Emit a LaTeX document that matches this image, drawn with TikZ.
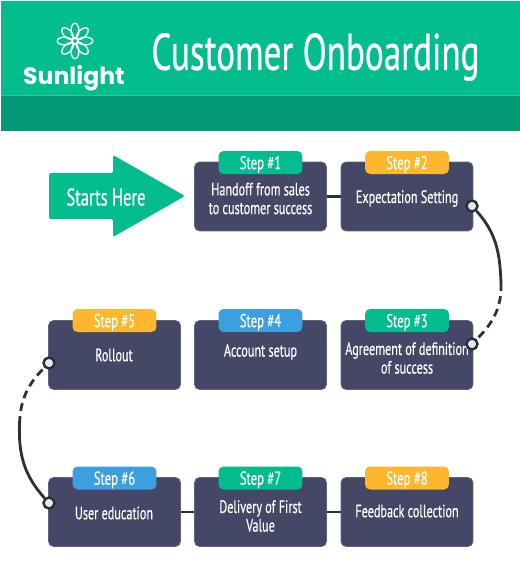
\documentclass[tikz,border=0pt]{standalone}
\usepackage{fontspec}
\setmainfont[FakeStretch=0.68,FakeBold=0.4]{PT Sans}
\newfontfamily\logofont{Poppins}
\definecolor{headgreen}{HTML}{04BD8F}
\definecolor{bandgreen}{HTML}{039A75}
\definecolor{rulegreen}{HTML}{2DC8A0}
\definecolor{boxnavy}{HTML}{444766}
\definecolor{tagorange}{HTML}{FDB72F}
\definecolor{tagblue}{HTML}{3CA0E0}
\definecolor{linedark}{HTML}{2C3038}
\definecolor{dotfill}{HTML}{DFECEF}

\begin{document}
\begin{tikzpicture}[x=0.02cm,y=-0.02cm,
    stepbox/.style={fill=boxnavy,draw=boxnavy!85!white,rounded corners=0.1cm,minimum width=2.64cm,
      minimum height=1.38cm,inner sep=0pt},
    boxtext/.style={text=white,inner sep=0pt,align=center,font=\fontsize{10.2}{10.6}\selectfont},
    tag/.style={rounded corners=0.1cm,minimum width=1.68cm,minimum height=0.46cm,inner sep=0pt,
      text=white,text depth=0pt,font=\fontsize{10.6}{12}\selectfont},
    joint/.style={circle,fill=dotfill,draw=linedark,line width=1.4pt,minimum size=0.22cm,inner sep=0pt},
    link/.style={linedark,line width=1.6pt}]
  \useasboundingbox (0,0) rectangle (520,578);
  % header
  \fill[headgreen] (1,1) rectangle (520,95);
  \fill[bandgreen] (1,96) rectangle (520,131);
  \draw[rulegreen,line width=0.6pt] (1,95.5) -- (520,95.5);
  % logo
  \foreach \a in {0,45,...,315}
    \draw[white,line width=0.75pt,rotate around={\a:(75,41)}] (85.5,41) ellipse (0.145cm and 0.078cm);
  \draw[white,line width=0.75pt] (75,41) circle (0.055cm);
  \node[text=white,inner sep=0pt,font=\logofont\bfseries\fontsize{13.4}{16}\selectfont] (brand) at (74,78) {Sunlight};
  \node[text=white,inner sep=0pt,font=\fontsize{29.4}{30}\selectfont] (title) at (315.5,57) {Customer Onboarding};
  % start arrow
  \fill[headgreen,rounded corners=0.03cm] (49,173) -- (113,173) -- (113,155) -- (185,196) -- (113,237)
    -- (113,219) -- (49,219) -- cycle;
  \node[text=white,inner sep=0pt,font=\fontsize{13.8}{15}\selectfont] (start) at (106,197) {Starts Here};
  % first row
  \node[stepbox] (handoff) at (260.5,196.5) {};
  \node[stepbox] (expect) at (407,196.5) {};
  \node[boxtext] (handofftext) at (260.5,198.5) {Handoff from sales\\to customer success};
  \node[boxtext] (expecttext) at (407,198.5) {Expectation Setting};
  % second row
  \node[stepbox] (rollout) at (114.5,355) {};
  \node[stepbox] (account) at (260.5,355) {};
  \node[stepbox] (agree) at (407,355) {};
  \node[boxtext] (rollouttext) at (114,355) {Rollout};
  \node[boxtext] (accounttext) at (260.5,352) {Account setup};
  \node[boxtext] (agreetext) at (407,358) {Agreement of definition\\of success};
  % third row
  \node[stepbox] (educ) at (114.5,512) {};
  \node[stepbox] (deliver) at (260.5,512) {};
  \node[stepbox] (feedback) at (407,512) {};
  \node[boxtext] (eductext) at (114,513) {User education};
  \node[boxtext] (delivertext) at (260.5,516) {Delivery of First\\Value};
  \node[boxtext] (feedbacktext) at (407,511) {Feedback collection};
  % step tags
  \node[tag,fill=headgreen] (tag1) at (260.5,162.5) {Step \#1};
  \node[tag,fill=tagorange] (tag2) at (407,162.5) {Step \#2};
  \node[tag,fill=headgreen] (tag3) at (407,320.5) {Step \#3};
  \node[tag,fill=tagblue] (tag4) at (260.5,320.5) {Step \#4};
  \node[tag,fill=tagorange] (tag5) at (114.5,320.5) {Step \#5};
  \node[tag,fill=tagblue] (tag6) at (114.5,478) {Step \#6};
  \node[tag,fill=headgreen] (tag7) at (260.5,478) {Step \#7};
  \node[tag,fill=tagorange] (tag8) at (407,478) {Step \#8};
  % straight links
  \draw[link] (handoff) -- (expect);
  \draw[link] (educ) -- (deliver);
  \draw[link] (deliver) -- (feedback);
  % curved links, half solid half dashed
  \coordinate (rightmid) at (501,283);
  \coordinate (leftmid) at (19.5,424);
  \node[joint] (jointa) at (472,206) {};
  \node[joint] (jointb) at (472,344) {};
  \node[joint] (jointc) at (49,363) {};
  \node[joint] (jointd) at (49,503) {};
  \draw[link] (jointa) to[out=-48,in=92] (rightmid);
  \draw[link,dash pattern=on 4.5pt off 3pt] (rightmid) to[out=-88,in=45] (jointb);
  \draw[link] (jointd) to[out=132,in=-92] (leftmid);
  \draw[link,dash pattern=on 4.5pt off 3pt] (leftmid) to[out=88,in=-135] (jointc);
\end{tikzpicture}
\end{document}
